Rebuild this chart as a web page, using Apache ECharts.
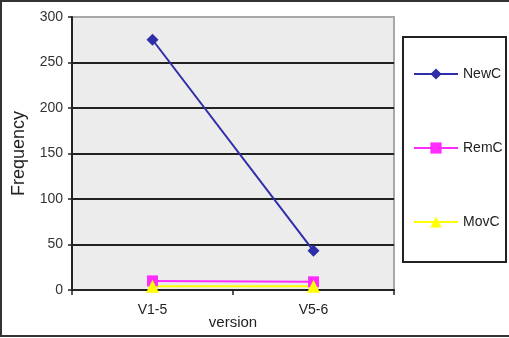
<!DOCTYPE html>
<html>
<head>
<meta charset="utf-8">
<script src="https://cdn.jsdelivr.net/npm/echarts@6/dist/echarts.min.js"></script>
<style>
  html, body { margin: 0; padding: 0; background: #fff; }
  #chart { width: 509px; height: 338px; }
</style>
</head>
<body>
<div id="chart"></div>
<script>
// Change counts per version step
const categories = ['V1-5', 'V5-6'];
const newC = [275, 43];
const remC = [10, 9];
const movC = [4, 4];
const yTicks = { min: 0, max: 300, interval: 50 };

const FONT = 'Liberation Sans, Arial, sans-serif';

const chart = echarts.init(document.getElementById('chart'), null, { renderer: 'canvas' });

function lineSeries(name, data, color, symbol, size) {
  return {
    name: name,
    type: 'line',
    data: data,
    symbol: symbol,
    symbolSize: size,
    showSymbol: true,
    lineStyle: { color: color, width: 2 },
    itemStyle: { color: color },
    emphasis: { disabled: true },
    z: 3
  };
}

chart.setOption({
  animation: false,
  textStyle: { fontFamily: FONT },
  grid: {
    left: 72, right: 115, top: 17, bottom: 48,
    outerBoundsMode: 'none',
    containLabel: false,
    show: true,
    backgroundColor: '#ececec',
    borderColor: '#a8a8a8',
    borderWidth: 2
  },
  legend: {
    orient: 'vertical',
    left: 408,
    top: 62,
    itemWidth: 44,
    itemHeight: 14,
    itemGap: 60,
    textStyle: { fontFamily: FONT, fontSize: 14, color: '#222' },
    data: ['NewC', 'RemC', 'MovC']
  },
  xAxis: {
    type: 'category',
    data: categories,
    boundaryGap: true,
    name: 'version',
    nameLocation: 'middle',
    nameGap: 25,
    nameMoveOverlap: false,
    nameTextStyle: { fontSize: 15, color: '#222' },
    axisLine: { lineStyle: { color: '#222', width: 2 } },
    axisTick: { show: true, length: 5, lineStyle: { color: '#222', width: 1.5 } },
    axisLabel: { fontSize: 14, color: '#222', margin: 13 },
    splitLine: { show: false }
  },
  yAxis: {
    type: 'value',
    min: yTicks.min,
    max: yTicks.max,
    interval: yTicks.interval,
    name: 'Frequency',
    nameLocation: 'middle',
    nameGap: 44,
    nameMoveOverlap: false,
    nameTextStyle: { fontSize: 18, color: '#222' },
    axisLine: { show: true, lineStyle: { color: '#222', width: 2 } },
    axisTick: { show: true, length: 4, lineStyle: { color: '#222', width: 1.5 } },
    axisLabel: { fontSize: 14, color: '#333', margin: 9 },
    splitLine: {
      show: true,
      lineStyle: {
        color: ['#222', '#222', '#222', '#222', '#222', '#222', '#a8a8a8'],
        width: 2
      }
    }
  },
  graphic: [
    {
      type: 'rect',
      shape: { x: 1, y: 1, width: 530, height: 335 },
      style: { fill: 'none', stroke: '#333', lineWidth: 2 },
      silent: true,
      z: 0
    },
    {
      type: 'rect',
      shape: { x: 403, y: 37, width: 103, height: 225 },
      style: { fill: 'none', stroke: '#222', lineWidth: 2 },
      silent: true,
      z: 0
    }
  ],
  series: [
    lineSeries('NewC', newC, '#2e2ea8', 'diamond', 12),
    lineSeries('RemC', remC, '#ff2bff', 'rect', 11),
    lineSeries('MovC', movC, '#ffff00', 'triangle', 13)
  ]
});
</script>
</body>
</html>
